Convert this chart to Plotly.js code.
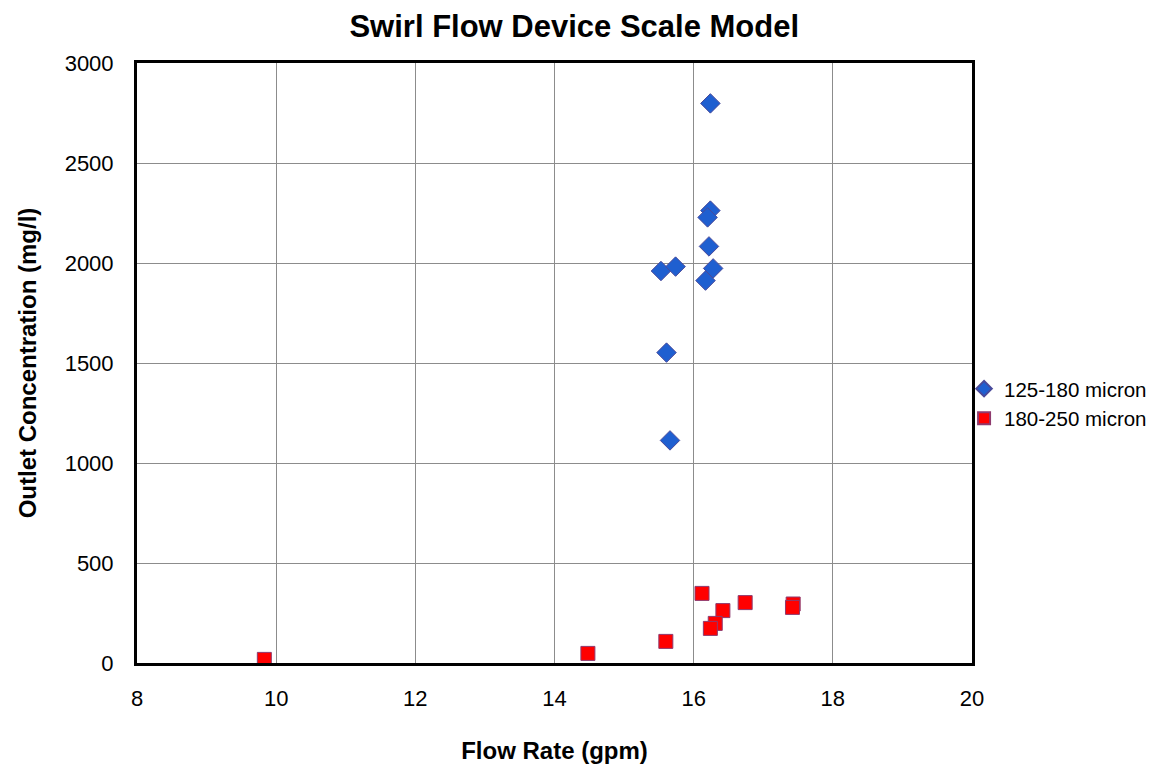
<!DOCTYPE html>
<html><head><meta charset="utf-8">
<script src="https://cdn.plot.ly/plotly-3.0.1.min.js"></script>
<style>body{margin:0;background:#fff}#chart{width:1152px;height:769px}</style>
</head><body><div id="chart"></div>
<script>
const seriesNames = ["125-180 micron", "180-250 micron"];
const flow125 = [16.24, 16.24, 16.20, 16.22, 16.28, 16.17, 15.53, 15.74, 15.61, 15.66];
const conc125 = [2798, 2262, 2228, 2083, 1973, 1912, 1960, 1982, 1552, 1113];
const flow180 = [9.83, 14.48, 15.60, 16.12, 16.42, 16.31, 16.24, 16.74, 17.43, 17.42];
const conc180 = [18, 48, 108, 348, 262, 198, 173, 302, 295, 278];
const xTicks = [8, 10, 12, 14, 16, 18, 20];
const yTicks = [0, 500, 1000, 1500, 2000, 2500, 3000];

const traces = [
  {x: flow125, y: conc125, name: seriesNames[0], type: "scatter", mode: "markers",
   marker: {symbol: "diamond", size: 15, color: "#1f5fd0", line: {color: "#4a4a9a", width: 1}}},
  {x: flow180, y: conc180, name: seriesNames[1], type: "scatter", mode: "markers",
   marker: {symbol: "square", size: 14, color: "#ff0000", line: {color: "#8e3a6e", width: 1}}}
];
const FF = "Arial, Liberation Sans, sans-serif";
const axisFont = {family: FF, size: 22, color: "#000"};
const layout = {
  width: 1152, height: 769,
  margin: {l: 137, r: 180, t: 63, b: 106, autoexpand: false},
  paper_bgcolor: "#fff", plot_bgcolor: "#fff",
  font: {family: FF, color: "#000"},
  title: {text: "<b>Swirl Flow Device Scale Model</b>", x: 0.4985, xref: "container", xanchor: "center",
          y: 0.966, yref: "container", yanchor: "middle",
          font: {size: 31, family: FF}},
  xaxis: {range: [8, 20], tickvals: xTicks, ticktext: xTicks.map(String), showgrid: true, gridcolor: "#8c8c8c", gridwidth: 1,
          showline: true, mirror: true, linecolor: "#000", linewidth: 3, zeroline: false, ticks: "", ticklen: 0,
          tickfont: axisFont, ticklabelstandoff: 14, automargin: false,
          title: {text: "<b>Flow Rate (gpm)</b>", font: {size: 24}, standoff: 32}},
  yaxis: {range: [0, 3000], tickvals: yTicks, ticktext: yTicks.map(String), showgrid: true, gridcolor: "#8c8c8c", gridwidth: 1,
          showline: true, mirror: true, linecolor: "#000", linewidth: 3, zeroline: false, ticks: "", ticklen: 0,
          tickfont: axisFont, ticklabelstandoff: 16, automargin: false,
          title: {text: "<b>Outlet Concentration (mg/l)</b>", font: {size: 24}, standoff: 22}},
  legend: {x: 0.9905, xanchor: "left", y: 0.432, yanchor: "middle", font: {size: 20.5, family: FF}, tracegroupgap: 2,
           bgcolor: "rgba(0,0,0,0)", itemwidth: 30, borderwidth: 0, itemsizing: "constant"},
  showlegend: true
};
Plotly.newPlot("chart", traces, layout, {displayModeBar: false, staticPlot: true});
</script></body></html>
